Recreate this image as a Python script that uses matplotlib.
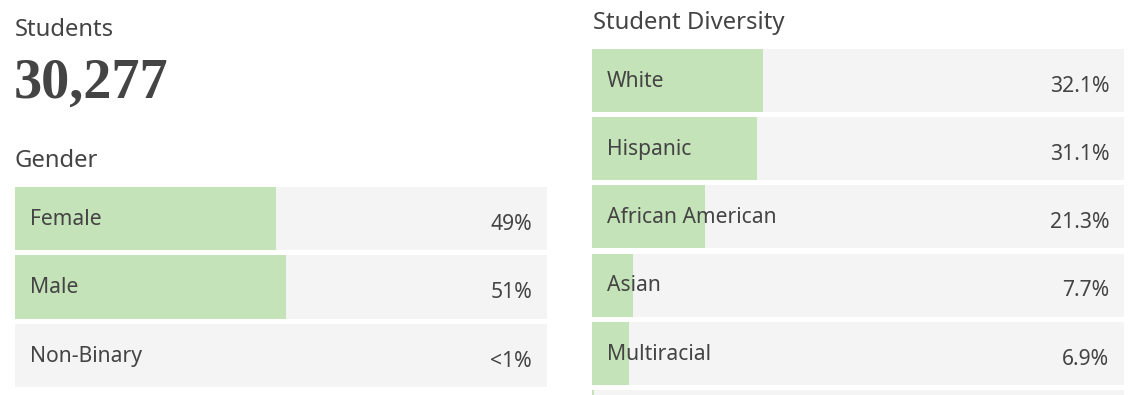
import matplotlib.pyplot as plt

# Data
total_students = "30,277"

gender_labels = ['Female', 'Male', 'Non-Binary']
gender_values = [49, 51, 0]
gender_text = ['49%', '51%', '<1%']

race_labels = ['White', 'Hispanic', 'African American', 'Asian', 'Multiracial', '']
race_values = [32.1, 31.1, 21.3, 7.7, 6.9, 0.3]
race_text = ['32.1%', '31.1%', '21.3%', '7.7%', '6.9%', '']

GREEN = '#c5e3b9'
GRAY = '#f4f4f4'
TEXT = '#444444'
SANS = 'Noto Sans'

W, H = 1141, 395
fig = plt.figure(figsize=(W / 100, H / 100), dpi=100)
fig.patch.set_facecolor('white')


def px_axes(x0, y0, x1, y1):
    # pixel box (top-left origin) -> figure fraction
    return fig.add_axes([x0 / W, 1 - y1 / H, (x1 - x0) / W, (y1 - y0) / H])


def draw_bars(ax, labels, values, texts, ybottom):
    n = len(labels)
    ys = list(range(n))
    ax.barh(ys, [100] * n, height=0.92, color=GRAY, zorder=1)
    ax.barh(ys, values, height=0.92, color=GREEN, zorder=2)
    ax.set_xlim(0, 100)
    ax.set_ylim(ybottom, -0.46)
    for i in ys:
        ax.text(2.8, i + 0.01, labels[i], ha='left', va='center', fontsize=15.2,
                color=TEXT, family=SANS, zorder=3)
        ax.text(97.2, i + 0.085, texts[i], ha='right', va='center', fontsize=15.2,
                color=TEXT, family=SANS, zorder=3)
    ax.axis('off')


# Headings
fig.text(15 / W, 1 - 30 / H, 'Students', ha='left', va='center', fontsize=17.2,
         color=TEXT, family=SANS)
fig.text(14 / W, 1 - 84 / H, total_students, ha='left', va='center', fontsize=40.5,
         color=TEXT, family='Liberation Serif', fontweight='bold')
fig.text(15 / W, 1 - 161 / H, 'Gender', ha='left', va='center', fontsize=17.2,
         color=TEXT, family=SANS)
fig.text(593 / W, 1 - 23 / H, 'Student Diversity', ha='left', va='center', fontsize=17.2,
         color=TEXT, family=SANS)

# Gender bars
ax1 = px_axes(15, 187, 547, 387)
draw_bars(ax1, gender_labels, gender_values, gender_text, 2.46)

# Diversity bars (last row runs off the bottom edge)
ax2 = px_axes(592, 49, 1124, 395)
draw_bars(ax2, race_labels, race_values, race_text, 4.61)

fig.savefig('out.png', dpi=100)
